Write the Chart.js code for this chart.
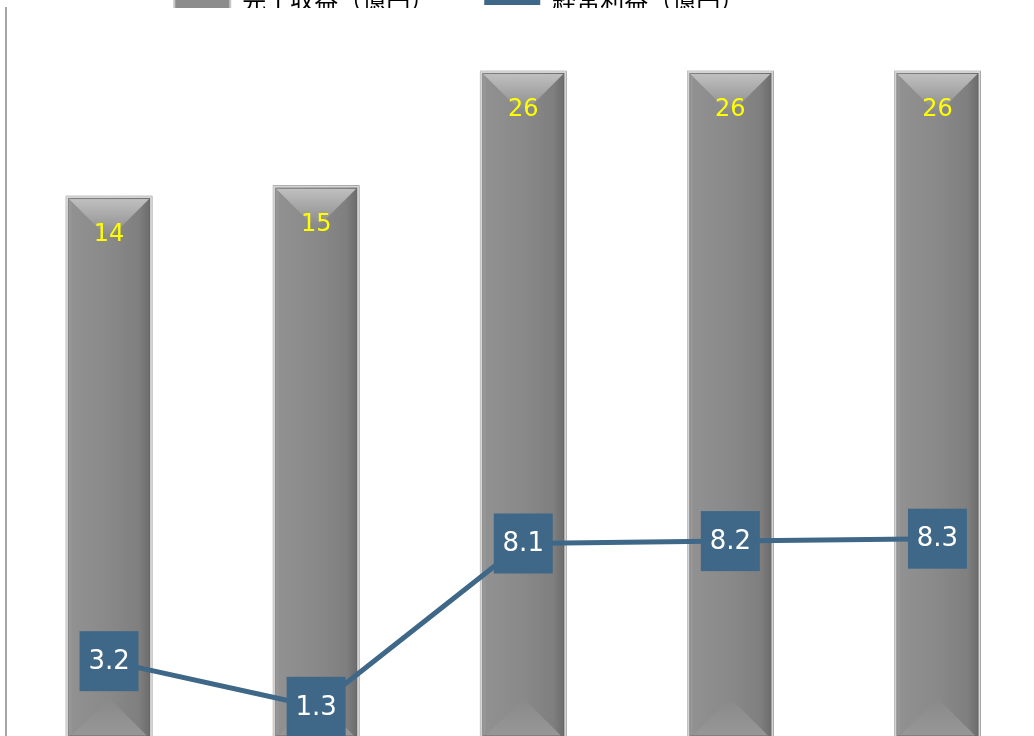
<!DOCTYPE html>
<html lang="ja">
<head>
<meta charset="utf-8">
<script src="https://cdn.jsdelivr.net/npm/chart.js@4.4.1/dist/chart.umd.min.js"></script>
<style>
  html, body { margin: 0; padding: 0; background: #fff; overflow: hidden; }
  #wrap { position: absolute; left: 0; top: -62px; width: 1041px; height: 800px; }
</style>
</head>
<body>
<div id="wrap"><canvas id="grafico"></canvas></div>
<script>
const periods = ['1期', '2期', '3期', '4期', '5期'];
const revenue = [14, 15, 26, 26, 26];      // 完工収益（億円）
const profit = [3.2, 1.3, 8.1, 8.2, 8.3];  // 経常利益（億円）

const BLUE = '#3f6888';
const BAR_MIN = -38.0;
const BAR_MAX = 32.05;

// tighten legend height and nudge it left
const legendSpacing = {
    id: 'legendSpacing',
    beforeInit(chart) {
        const fit = chart.legend.fit;
        chart.legend.fit = function () {
            fit.call(this);
            this.height -= 14;
        };
    },
    afterLayout(chart) {
        chart.legend.left -= 64;
        chart.legend.right -= 64;
    }
};

// bevel facets painted over each bar
const bevelBars = {
    id: 'bevelBars',
    afterDatasetDraw(chart, args) {
        if (args.index !== 0) return;
        const ctx = chart.ctx;
        const area = chart.chartArea;
        ctx.save();
        ctx.beginPath();
        ctx.rect(area.left, area.top, area.right - area.left, area.bottom - area.top);
        ctx.clip();
        args.meta.data.forEach(bar => {
            const { x, y, base, width } = bar.getProps(['x', 'y', 'base', 'width'], true);
            const l = x - width / 2, r = x + width / 2, h = base - y;
            const body = ctx.createLinearGradient(l, 0, r, 0);
            body.addColorStop(0, '#a8a8a8');
            body.addColorStop(0.07, '#919191');
            body.addColorStop(0.5, '#898989');
            body.addColorStop(0.85, '#7f7f7f');
            body.addColorStop(1, '#686868');
            ctx.fillStyle = body;
            ctx.fillRect(l, y, width, h);

            const d = width / 2 - 3;
            let g = ctx.createLinearGradient(0, y, 0, y + d);
            g.addColorStop(0, '#c4c4c4');
            g.addColorStop(1, '#8a8a8a');
            ctx.fillStyle = g;
            ctx.beginPath();
            ctx.moveTo(l + 3, y + 3);
            ctx.lineTo(r - 3, y + 3);
            ctx.lineTo(x, y + 3 + d);
            ctx.closePath();
            ctx.fill();

            g = ctx.createLinearGradient(0, base - d, 0, base);
            g.addColorStop(0, '#898989');
            g.addColorStop(1, '#989898');
            ctx.fillStyle = g;
            ctx.beginPath();
            ctx.moveTo(l + 3, base);
            ctx.lineTo(r - 3, base);
            ctx.lineTo(x, base - d);
            ctx.closePath();
            ctx.fill();

            ctx.strokeStyle = '#d4d4d4';
            ctx.lineWidth = 2;
            ctx.strokeRect(l + 1, y + 1, width - 2, h - 2);
            ctx.strokeStyle = 'rgba(100,100,100,0.45)';
            ctx.lineWidth = 1;
            ctx.strokeRect(l + 2.5, y + 2.5, width - 5, h - 5);
        });
        ctx.restore();
    }
};

// value labels: yellow inside bars, boxed on the line
const valueLabels = {
    id: 'valueLabels',
    afterDatasetsDraw(chart) {
        const ctx = chart.ctx;
        ctx.save();
        ctx.textAlign = 'center';
        ctx.textBaseline = 'middle';
        ctx.font = '24px "DejaVu Sans"';
        ctx.fillStyle = '#ffff00';
        chart.getDatasetMeta(0).data.forEach((bar, i) => {
            ctx.fillText(String(revenue[i]), bar.x, bar.y + 39);
        });
        ctx.font = '26px "DejaVu Sans"';
        chart.getDatasetMeta(1).data.forEach((pt, i) => {
            ctx.fillStyle = BLUE;
            ctx.fillRect(pt.x - 29.5, pt.y - 30, 59, 60);
            ctx.fillStyle = '#ffffff';
            ctx.fillText(profit[i].toFixed(1), pt.x, pt.y + 1);
        });
        ctx.restore();
    }
};

const ctx = document.getElementById('grafico').getContext('2d');
new Chart(ctx, {
    data: {
        labels: periods,
        datasets: [{
            type: 'bar',
            label: '完工収益（億円）',
            data: revenue,
            yAxisID: 'y',
            base: BAR_MIN,
            backgroundColor: '#888888',
            borderWidth: 0,
            barThickness: 86,
            order: 2
        }, {
            type: 'line',
            label: '経常利益（億円）',
            data: profit,
            yAxisID: 'y1',
            borderColor: BLUE,
            backgroundColor: BLUE,
            borderWidth: 5,
            pointRadius: 0,
            tension: 0,
            order: 1
        }]
    },
    options: {
        responsive: true,
        maintainAspectRatio: false,
        animation: false,
        layout: { padding: { left: 5.5, right: 0, top: 0, bottom: 0 } },
        plugins: {
            legend: {
                labels: {
                    usePointStyle: true,
                    pointStyleWidth: 56,
                    boxHeight: 24,
                    padding: 50,
                    color: '#262626',
                    font: { size: 24, family: '"Noto Sans CJK JP"' },
                    generateLabels: () => [{
                        text: '完工収益（億円）',
                        fillStyle: '#8c8c8c',
                        strokeStyle: '#c8c8c8',
                        lineWidth: 2,
                        pointStyle: 'rect',
                        datasetIndex: 0,
                        hidden: false
                    }, {
                        text: '経常利益（億円）',
                        fillStyle: BLUE,
                        strokeStyle: BLUE,
                        lineWidth: 10,
                        pointStyle: 'line',
                        datasetIndex: 1,
                        hidden: false
                    }]
                }
            },
            tooltip: { enabled: false }
        },
        scales: {
            x: { display: false },
            y: {
                position: 'left',
                min: BAR_MIN,
                max: BAR_MAX,
                ticks: { display: false },
                grid: { display: false, drawTicks: false },
                border: { color: '#a6a6a6', width: 2 }
            },
            y1: {
                display: false,
                position: 'right',
                min: 0,
                max: 30.4
            }
        }
    },
    plugins: [legendSpacing, bevelBars, valueLabels]
});
</script>
</body>
</html>
